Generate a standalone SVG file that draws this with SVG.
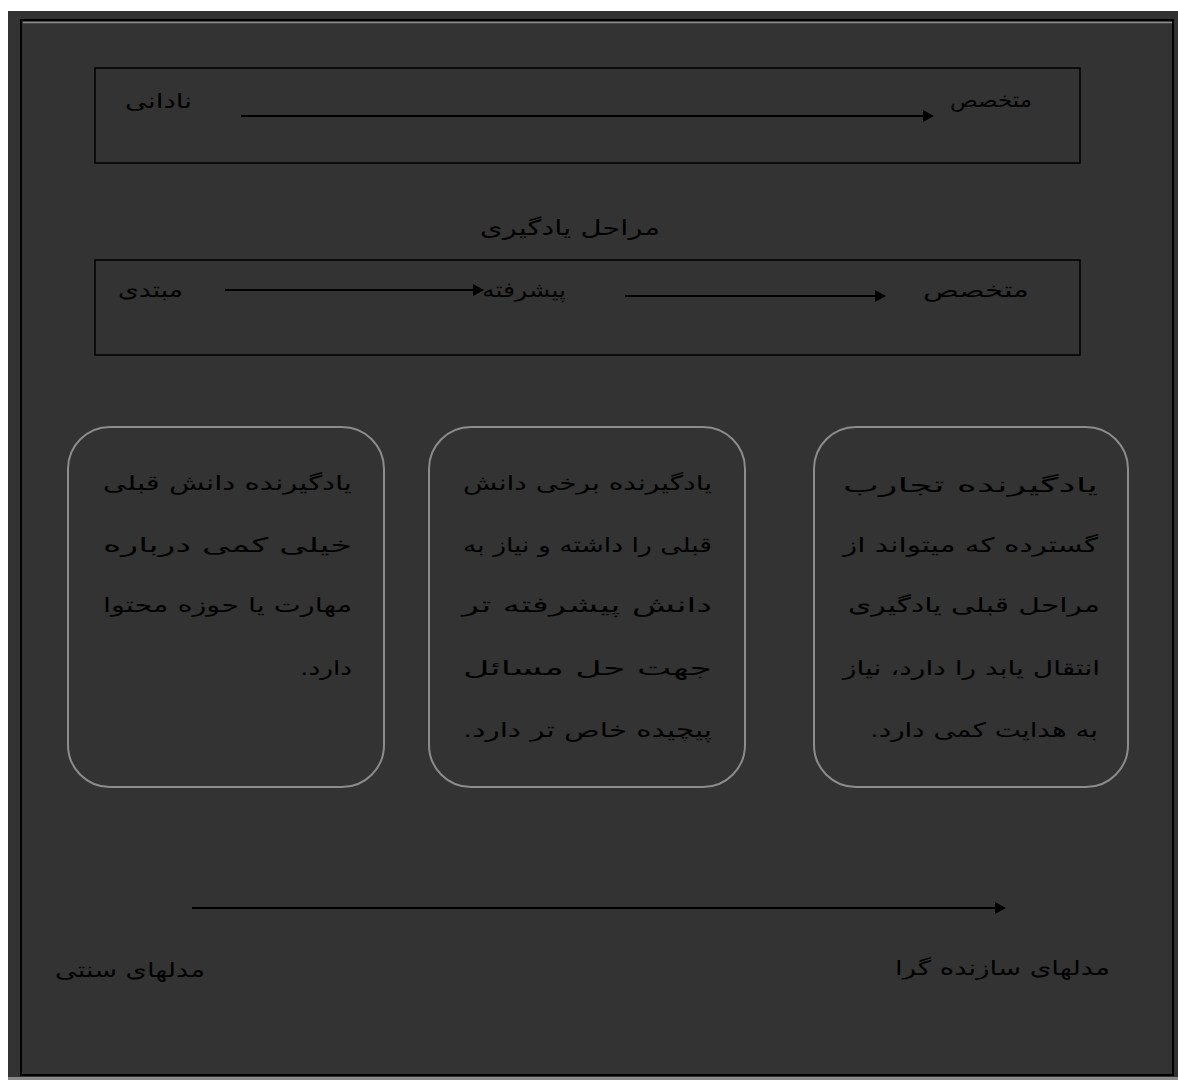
<svg xmlns="http://www.w3.org/2000/svg" width="1178" height="1080" viewBox="0 0 1178 1080">
<defs>
<style>
.t{font-family:"DejaVu Sans","Noto Sans",sans-serif;fill:#000;direction:rtl;}
.lbl{font-size:20px;}
.card-t{font-size:20px;}
.box{fill:none;stroke:#000;stroke-width:1.5;}
.card{fill:none;stroke:#8c8c8c;stroke-width:2;}
.conn{stroke:#000;stroke-width:2;fill:none;}
</style>
<marker id="ah" markerWidth="12" markerHeight="12" refX="10" refY="6" orient="auto" markerUnits="userSpaceOnUse">
<path d="M0,0 L11,6 L0,12 Z" fill="#000"/>
</marker>
</defs>
<rect x="0" y="0" width="1178" height="1080" fill="#ffffff"/>
<rect x="8" y="11" width="1170" height="1069" fill="#333333"/>
<rect x="21" y="20" width="1152" height="1055" fill="none" stroke="#000" stroke-width="2"/>
<line x1="23" y1="22.5" x2="1172" y2="22.5" stroke="#8a8a8a" stroke-width="1.5"/>
<rect x="8" y="1077" width="1170" height="3" fill="#8a8a8a"/>

<g id="scale-box">
<rect class="box" x="95" y="68" width="985" height="95"/>
<text class="t lbl" x="192" y="108" text-anchor="start" textLength="67" lengthAdjust="spacingAndGlyphs">نادانی</text>
<text class="t lbl" x="1032" y="107" text-anchor="start" textLength="82" lengthAdjust="spacingAndGlyphs">متخصص</text>
</g>

<g id="title">
<text class="t" font-size="21" x="660" y="235" text-anchor="start" textLength="180" lengthAdjust="spacingAndGlyphs">مراحل یادگیری</text>
</g>

<g id="stages-box">
<rect class="box" x="95" y="260" width="985" height="95"/>
<text class="t lbl" x="183" y="297" text-anchor="start" textLength="65" lengthAdjust="spacingAndGlyphs">مبتدی</text>
<text class="t lbl" x="566" y="297" text-anchor="start" textLength="84" lengthAdjust="spacingAndGlyphs">پیشرفته</text>
<text class="t lbl" x="1029" y="297" text-anchor="start" textLength="106" lengthAdjust="spacingAndGlyphs">متخصص</text>
</g>

<g id="card-novice">
<rect class="card" x="68" y="427" width="316" height="360" rx="42" ry="42"/>
<text class="t card-t" x="352" y="490" text-anchor="start" textLength="249" lengthAdjust="spacingAndGlyphs">یادگیرنده دانش قبلی</text>
<text class="t card-t" x="352" y="552" text-anchor="start" textLength="249" lengthAdjust="spacingAndGlyphs">خیلی کمی درباره</text>
<text class="t card-t" x="352" y="612" text-anchor="start" textLength="249" lengthAdjust="spacingAndGlyphs">مهارت یا حوزه محتوا</text>
<text class="t card-t" x="352" y="675" text-anchor="start" textLength="52" lengthAdjust="spacingAndGlyphs">دارد.</text>
</g>

<g id="card-advanced">
<rect class="card" x="429" y="427" width="316" height="360" rx="42" ry="42"/>
<text class="t card-t" x="712" y="490" text-anchor="start" textLength="249" lengthAdjust="spacingAndGlyphs">یادگیرنده برخی دانش</text>
<text class="t card-t" x="712" y="552" text-anchor="start" textLength="249" lengthAdjust="spacingAndGlyphs">قبلی را داشته و نیاز به</text>
<text class="t card-t" x="712" y="612" text-anchor="start" textLength="250" lengthAdjust="spacingAndGlyphs">دانش پیشرفته تر</text>
<text class="t card-t" x="712" y="675" text-anchor="start" textLength="249" lengthAdjust="spacingAndGlyphs">جهت حل مسائل</text>
<text class="t card-t" x="712" y="737" text-anchor="start" textLength="249" lengthAdjust="spacingAndGlyphs">پیچیده خاص تر دارد.</text>
</g>

<g id="card-expert">
<rect class="card" x="814" y="427" width="314" height="360" rx="42" ry="42"/>
<text class="t card-t" x="1098" y="492" text-anchor="start" textLength="255" lengthAdjust="spacingAndGlyphs">یادگیرنده تجارب</text>
<text class="t card-t" x="1098" y="552" text-anchor="start" textLength="255" lengthAdjust="spacingAndGlyphs">گسترده که میتواند از</text>
<text class="t card-t" x="1100" y="612" text-anchor="start" textLength="252" lengthAdjust="spacingAndGlyphs">مراحل قبلی یادگیری</text>
<text class="t card-t" x="1100" y="675" text-anchor="start" textLength="257" lengthAdjust="spacingAndGlyphs">انتقال یابد را دارد، نیاز</text>
<text class="t card-t" x="1098" y="737" text-anchor="start" textLength="228" lengthAdjust="spacingAndGlyphs">به هدایت کمی دارد.</text>
</g>

<g id="model-labels">
<text class="t lbl" x="205" y="977" text-anchor="start" textLength="150" lengthAdjust="spacingAndGlyphs">مدلهای سنتی</text>
<text class="t lbl" x="1110" y="975" text-anchor="start" textLength="215" lengthAdjust="spacingAndGlyphs">مدلهای سازنده گرا</text>
</g>

<g id="connectors">
<line class="conn" x1="241" y1="116" x2="933" y2="116" marker-end="url(#ah)"/>
<line class="conn" x1="225" y1="290" x2="483" y2="290" marker-end="url(#ah)"/>
<line class="conn" x1="625" y1="296" x2="885" y2="296" marker-end="url(#ah)"/>
<line class="conn" x1="192" y1="908" x2="1005" y2="908" marker-end="url(#ah)"/>
</g>
</svg>
